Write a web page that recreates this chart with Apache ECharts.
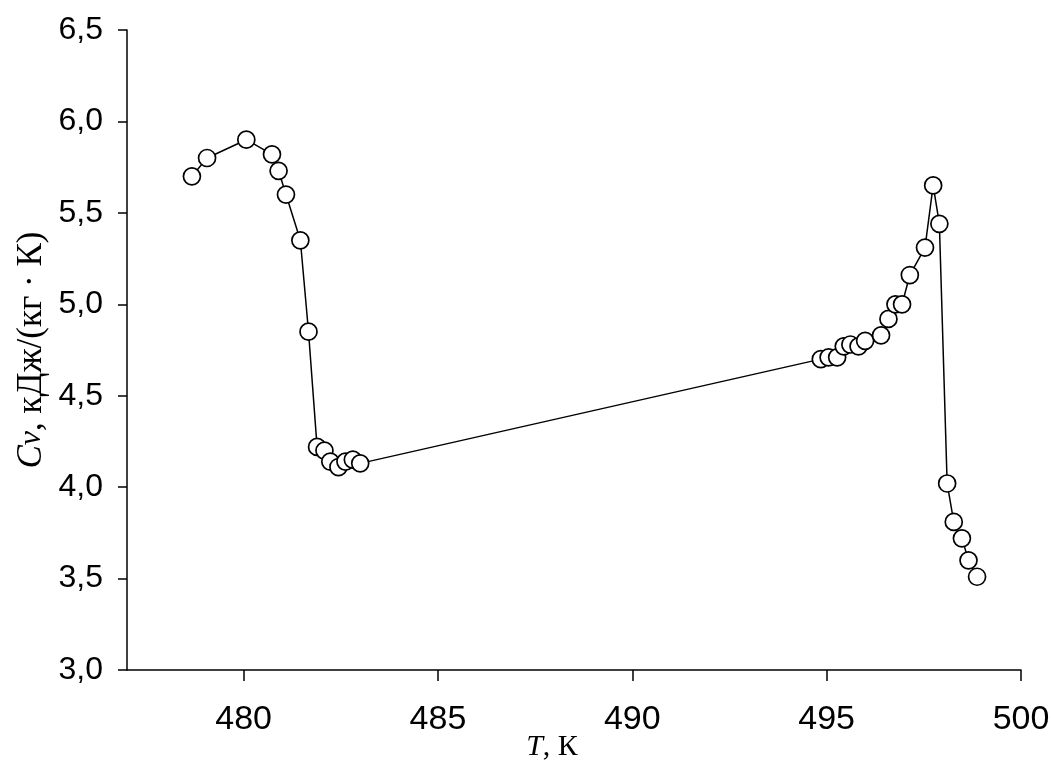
<!DOCTYPE html>
<html>
<head>
<meta charset="utf-8">
<script src="https://cdn.jsdelivr.net/npm/echarts@6/dist/echarts.min.js"></script>
<style>
html,body{margin:0;padding:0;background:#fff;}
#chart{width:1051px;height:763px;}
</style>
</head>
<body>
<div id="chart"></div>
<script>
// Temperature, K
var tempK = [478.67, 479.06, 480.07, 480.73, 480.90, 481.09, 481.46, 481.67, 481.89, 482.08,
             482.23, 482.44, 482.62, 482.81, 483.00,
             494.85, 495.05, 495.27, 495.44, 495.61, 495.82, 495.99, 496.40, 496.59, 496.77,
             496.94, 497.14, 497.53, 497.74, 497.90, 498.10, 498.27, 498.48, 498.65, 498.87];
// Heat capacity Cv, kJ/(kg·K)
var cv = [5.70, 5.80, 5.90, 5.82, 5.73, 5.60, 5.35, 4.85, 4.22, 4.20,
          4.14, 4.11, 4.14, 4.15, 4.13,
          4.70, 4.71, 4.71, 4.77, 4.78, 4.77, 4.80, 4.83, 4.92, 5.00,
          5.00, 5.16, 5.31, 5.65, 5.44, 4.02, 3.81, 3.72, 3.60, 3.51];
var xTicks = [480, 485, 490, 495, 500];
var yTicks = [3.0, 3.5, 4.0, 4.5, 5.0, 5.5, 6.0, 6.5];

var pts = tempK.map(function (t, i) { return [t, cv[i]]; });

var chart = echarts.init(document.getElementById('chart'));
chart.setOption({
  animation: false,
  backgroundColor: '#ffffff',
  grid: { left: 127, right: 30, top: 30, bottom: 93, containLabel: false, outerBoundsMode: 'none' },
  xAxis: {
    type: 'value',
    min: 477, max: 500,
    name: '{i|T}{n|, К}',
    nameLocation: 'middle',
    nameGap: 62,
    nameMoveOverlap: false,
    nameTextStyle: {
      padding: [0, 44, 0, 0],
      rich: {
        i: { fontFamily: 'Liberation Serif', fontStyle: 'italic', fontSize: 30, color: '#000' },
        n: { fontFamily: 'Liberation Serif', fontSize: 30, color: '#000' }
      }
    },
    axisLine: { show: true, onZero: false, lineStyle: { color: '#000', width: 1.5 } },
    axisTick: { show: true, length: 11, customValues: xTicks, lineStyle: { color: '#000', width: 1.5 } },
    axisLabel: {
      customValues: xTicks,
      margin: 33,
      fontFamily: 'Liberation Sans', fontSize: 34, color: '#000'
    },
    splitLine: { show: false }
  },
  yAxis: {
    type: 'value',
    min: 3, max: 6.5, interval: 0.5,
    name: '{i|C}{s|v}{n|, кДж/(кг · К)}',
    nameLocation: 'middle',
    nameRotate: 90,
    nameGap: 78,
    nameMoveOverlap: false,
    nameTextStyle: {
      rich: {
        i: { fontFamily: 'Liberation Serif', fontStyle: 'italic', fontSize: 35, color: '#000' },
        s: { fontFamily: 'Liberation Serif', fontStyle: 'italic', fontSize: 32, color: '#000' },
        n: { fontFamily: 'Liberation Serif', fontSize: 35, color: '#000' }
      }
    },
    axisLine: { show: true, onZero: false, lineStyle: { color: '#000', width: 1.5 } },
    axisTick: { show: true, length: 9, lineStyle: { color: '#000', width: 1.5 } },
    axisLabel: {
      margin: 24,
      fontFamily: 'Liberation Sans', fontSize: 32, color: '#000',
      formatter: function (v) { return v.toFixed(1).replace('.', ','); }
    },
    splitLine: { show: false }
  },
  series: [{
    type: 'line',
    data: pts,
    symbol: 'circle',
    symbolSize: 17,
    showAllSymbol: true,
    lineStyle: { color: '#000', width: 1.5 },
    itemStyle: { color: '#fff', borderColor: '#000', borderWidth: 1.7 }
  }]
});
</script>
</body>
</html>
